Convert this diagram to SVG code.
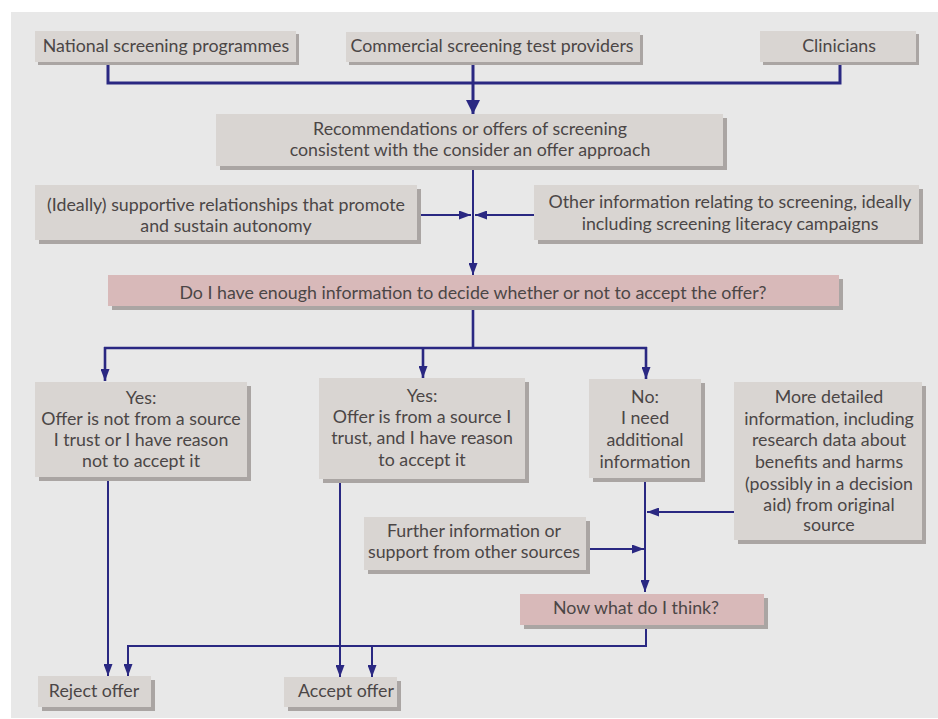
<svg xmlns="http://www.w3.org/2000/svg" width="938" height="719" viewBox="0 0 938 719">
<defs>
<style>
.bx{fill:#d9d5d2}
.sh{fill:#aaa5a3}
.pk{fill:#d8b9b9}
text{font-family:Lato,"Liberation Sans",sans-serif;font-size:17.8px;fill:#4b4646;text-anchor:middle}
.c{fill:none;stroke:#2a2882;stroke-width:2}
.t{stroke-width:3}
.m{stroke-width:2.6}
</style>
<marker id="a" markerUnits="userSpaceOnUse" markerWidth="12" markerHeight="9" refX="12" refY="4.5" orient="auto"><path d="M0,0 L12,4.5 L0,9 z" fill="#2a2882"/></marker>
<marker id="ab" markerUnits="userSpaceOnUse" markerWidth="14" markerHeight="14" refX="14" refY="7" orient="auto"><path d="M0,0 L14,7 L0,14 z" fill="#2a2882"/></marker>
</defs>
<rect x="11" y="12" width="927" height="706" fill="#e8e8e8"/>

<g id="connectors">
<path class="c t" d="M108,62 V83 H840 V62"/>
<path class="c t" d="M473,62 V114" marker-end="url(#ab)"/>
<path class="c" d="M473,166 V275" marker-end="url(#a)"/>
<path class="c" d="M417,215 H471" marker-end="url(#a)"/>
<path class="c" d="M534,215 H475" marker-end="url(#a)"/>
<path class="c m" d="M473,306 V348 M104,348 H647"/>
<path class="c m" d="M105,347 V381" marker-end="url(#a)"/>
<path class="c m" d="M423,347 V378" marker-end="url(#a)"/>
<path class="c m" d="M646,347 V379" marker-end="url(#a)"/>
<path class="c" d="M108,477 V676" marker-end="url(#a)"/>
<path class="c" d="M340,479 V677" marker-end="url(#a)"/>
<path class="c" d="M645,478 V592" marker-end="url(#a)"/>
<path class="c" d="M734,512 H647" marker-end="url(#a)"/>
<path class="c" d="M586,549 H644" marker-end="url(#a)"/>
<path class="c" d="M646,625 V646 H128 V676" marker-end="url(#a)"/>
<path class="c" d="M372,645 V677" marker-end="url(#a)"/>
</g>

<g id="national">
<rect class="sh" x="38" y="34" width="261" height="31"/>
<rect class="bx" x="35" y="31" width="261" height="31"/>
<text x="166" y="52">National screening programmes</text>
</g>
<g id="commercial">
<rect class="sh" x="349" y="35" width="294" height="30"/>
<rect class="bx" x="346" y="32" width="294" height="30"/>
<text x="492" y="52">Commercial screening test providers</text>
</g>
<g id="clinicians">
<rect class="sh" x="763" y="34" width="156" height="31"/>
<rect class="bx" x="760" y="31" width="156" height="31"/>
<text x="839" y="52">Clinicians</text>
</g>
<g id="recommendations">
<rect class="sh" x="220" y="118" width="507" height="52"/>
<rect class="bx" x="216" y="114" width="507" height="52"/>
<text x="470" y="135">Recommendations or offers of screening</text>
<text x="470" y="156">consistent with the consider an offer approach</text>
</g>
<g id="relationships">
<rect class="sh" x="39" y="189" width="382" height="55"/>
<rect class="bx" x="35" y="185" width="382" height="55"/>
<text x="226" y="211">(Ideally) supportive relationships that promote</text>
<text x="226" y="232">and sustain autonomy</text>
</g>
<g id="otherinfo">
<rect class="sh" x="538" y="189" width="385" height="55"/>
<rect class="bx" x="534" y="185" width="385" height="55"/>
<text x="730" y="208">Other information relating to screening, ideally</text>
<text x="730" y="230">including screening literacy campaigns</text>
</g>
<g id="question">
<rect class="sh" x="112" y="279" width="731" height="31"/>
<rect class="pk" x="108" y="275" width="731" height="31"/>
<text x="473" y="299">Do I have enough information to decide whether or not to accept the offer?</text>
</g>
<g id="yes-reject">
<rect class="sh" x="39" y="386" width="212" height="95"/>
<rect class="bx" x="35" y="382" width="212" height="95"/>
<text x="141" y="404">Yes:</text>
<text x="141" y="425">Offer is not from a source</text>
<text x="141" y="446">I trust or I have reason</text>
<text x="141" y="467">not to accept it</text>
</g>
<g id="yes-accept">
<rect class="sh" x="323" y="382" width="206" height="101"/>
<rect class="bx" x="319" y="378" width="206" height="101"/>
<text x="422" y="402">Yes:</text>
<text x="422" y="423">Offer is from a source I</text>
<text x="422" y="444">trust, and I have reason</text>
<text x="422" y="466">to accept it</text>
</g>
<g id="no">
<rect class="sh" x="593" y="383" width="112" height="99"/>
<rect class="bx" x="589" y="379" width="112" height="99"/>
<text x="645" y="403">No:</text>
<text x="645" y="424">I need</text>
<text x="645" y="446">additional</text>
<text x="645" y="468">information</text>
</g>
<g id="detailed">
<rect class="sh" x="738" y="386" width="188" height="158"/>
<rect class="bx" x="734" y="382" width="188" height="158"/>
<text x="829" y="403">More detailed</text>
<text x="829" y="425">information, including</text>
<text x="829" y="446">research data about</text>
<text x="829" y="468">benefits and harms</text>
<text x="829" y="490">(possibly in a decision</text>
<text x="829" y="511">aid) from original</text>
<text x="829" y="531">source</text>
</g>
<g id="further">
<rect class="sh" x="368" y="521" width="222" height="53"/>
<rect class="bx" x="364" y="517" width="222" height="53"/>
<text x="474" y="537">Further information or</text>
<text x="474" y="558">support from other sources</text>
</g>
<g id="nowwhat">
<rect class="sh" x="524" y="598" width="244" height="31"/>
<rect class="pk" x="520" y="594" width="244" height="31"/>
<text x="636" y="614">Now what do I think?</text>
</g>
<g id="reject">
<rect class="sh" x="42" y="680" width="113" height="31"/>
<rect class="bx" x="38" y="676" width="113" height="31"/>
<text x="94" y="697">Reject offer</text>
</g>
<g id="accept">
<rect class="sh" x="288" y="681" width="113" height="30"/>
<rect class="bx" x="284" y="677" width="113" height="30"/>
<text x="346" y="697">Accept offer</text>
</g>
</svg>
